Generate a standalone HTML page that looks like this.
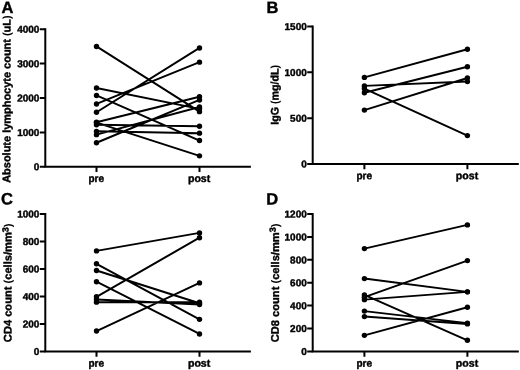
<!DOCTYPE html>
<html><head><meta charset="utf-8"><title>Figure</title>
<style>
html,body{margin:0;padding:0;background:#fff;}
svg{display:block;}
text{font-family:"Liberation Sans",sans-serif;font-weight:bold;fill:#000;stroke:#000;stroke-width:0.42px;stroke-linejoin:round;}
.pl{font-size:16.5px;}
.tk{font-size:10px;text-anchor:end;}
.xl{font-size:10.6px;text-anchor:middle;}
.yl{font-size:11px;text-anchor:middle;}
.ax{stroke:#000;stroke-width:2.0;fill:none;stroke-linecap:butt;}
.ln{stroke:#000;stroke-width:1.95;fill:none;stroke-linecap:round;}
circle{fill:#000;}
.np{stroke:none;}
</style></head><body>
<svg width="520" height="370" viewBox="0 0 520 370">
<rect x="0" y="0" width="520" height="370" fill="#fff"/>
<defs><filter id="soft" x="0" y="0" width="520" height="370" filterUnits="userSpaceOnUse"><feGaussianBlur stdDeviation="0.35"/></filter></defs>
<g filter="url(#soft)">

<g>
<text class="pl" transform="translate(1.6 13.1) rotate(0.03)">A</text>
<path class="ax" d="M45.3 28.25 V166.75 H250.9"/>
<path class="ax" d="M45.3 166.75 H39.8M45.3 132.38 H39.8M45.3 98 H39.8M45.3 63.62 H39.8M45.3 29.25 H39.8M96.5 166.75 V172.05M199.5 166.75 V172.05"/>
<text class="tk" transform="translate(39.4 170.35) rotate(0.03)">0</text>
<text class="tk" transform="translate(39.4 135.97) rotate(0.03)">1000</text>
<text class="tk" transform="translate(39.4 101.6) rotate(0.03)">2000</text>
<text class="tk" transform="translate(39.4 67.22) rotate(0.03)">3000</text>
<text class="tk" transform="translate(39.4 32.85) rotate(0.03)">4000</text>
<text class="xl" transform="translate(96.3 182.05) rotate(0.03)" textLength="15.6" lengthAdjust="spacingAndGlyphs">pre</text>
<text class="xl" transform="translate(199.1 182.05) rotate(0.03)">post</text>
<text class="yl" transform="translate(10.4 99.05) rotate(-89.97)" textLength="167.5" lengthAdjust="spacingAndGlyphs">Absolute lymphocyte count <tspan class="np">(</tspan>uL<tspan class="np">)</tspan></text>
<path class="ln" d="M96.5 46.44L199.5 111.65M96.5 87.96L199.5 108.86M96.5 95.46L199.5 140.56M96.5 103.95L199.5 62.15M96.5 112.27L199.5 47.95M96.5 122.23L199.5 96.76M96.5 122.58L199.5 155.85M96.5 124.74L199.5 126.26M96.5 131.34L199.5 133.17M96.5 134.64L199.5 107.04M96.5 142.76L199.5 99.96"/>
<circle cx="96.5" cy="46.44" r="2.7"/><circle cx="199.5" cy="111.65" r="2.7"/>
<circle cx="96.5" cy="87.96" r="2.7"/><circle cx="199.5" cy="108.86" r="2.7"/>
<circle cx="96.5" cy="95.46" r="2.7"/><circle cx="199.5" cy="140.56" r="2.7"/>
<circle cx="96.5" cy="103.95" r="2.7"/><circle cx="199.5" cy="62.15" r="2.7"/>
<circle cx="96.5" cy="112.27" r="2.7"/><circle cx="199.5" cy="47.95" r="2.7"/>
<circle cx="96.5" cy="122.23" r="2.7"/><circle cx="199.5" cy="96.76" r="2.7"/>
<circle cx="96.5" cy="122.58" r="2.7"/><circle cx="199.5" cy="155.85" r="2.7"/>
<circle cx="96.5" cy="124.74" r="2.7"/><circle cx="199.5" cy="126.26" r="2.7"/>
<circle cx="96.5" cy="131.34" r="2.7"/><circle cx="199.5" cy="133.17" r="2.7"/>
<circle cx="96.5" cy="134.64" r="2.7"/><circle cx="199.5" cy="107.04" r="2.7"/>
<circle cx="96.5" cy="142.76" r="2.7"/><circle cx="199.5" cy="99.96" r="2.7"/>
</g>
<g>
<text class="pl" transform="translate(266.5 13.1) rotate(0.03)">B</text>
<path class="ax" d="M312.7 25.5 V164 H518.8"/>
<path class="ax" d="M312.7 164 H307.2M312.7 118.17 H307.2M312.7 72.33 H307.2M312.7 26.5 H307.2M364.4 164 V169.3M467.4 164 V169.3"/>
<text class="tk" transform="translate(306.8 167.6) rotate(0.03)">0</text>
<text class="tk" transform="translate(306.8 121.77) rotate(0.03)">500</text>
<text class="tk" transform="translate(306.8 75.93) rotate(0.03)">1000</text>
<text class="tk" transform="translate(306.8 30.1) rotate(0.03)">1500</text>
<text class="xl" transform="translate(364.2 179.3) rotate(0.03)" textLength="15.6" lengthAdjust="spacingAndGlyphs">pre</text>
<text class="xl" transform="translate(467 179.3) rotate(0.03)">post</text>
<text class="yl" transform="translate(278.5 94.85) rotate(-89.97)" textLength="59.8" lengthAdjust="spacingAndGlyphs">IgG <tspan class="np">(</tspan>mg/dL<tspan class="np">)</tspan></text>
<path class="ln" d="M364.4 77.38L467.4 49.23M364.4 85.9L467.4 81.59M364.4 88.65L467.4 135.58M364.4 92.68L467.4 66.74M364.4 110.1L467.4 78.02"/>
<circle cx="364.4" cy="77.38" r="2.7"/><circle cx="467.4" cy="49.23" r="2.7"/>
<circle cx="364.4" cy="85.9" r="2.7"/><circle cx="467.4" cy="81.59" r="2.7"/>
<circle cx="364.4" cy="88.65" r="2.7"/><circle cx="467.4" cy="135.58" r="2.7"/>
<circle cx="364.4" cy="92.68" r="2.7"/><circle cx="467.4" cy="66.74" r="2.7"/>
<circle cx="364.4" cy="110.1" r="2.7"/><circle cx="467.4" cy="78.02" r="2.7"/>
</g>
<g>
<text class="pl" transform="translate(1.1 204.5) rotate(0.03)">C</text>
<path class="ax" d="M45.3 212.9 V351.4 H250.9"/>
<path class="ax" d="M45.3 351.4 H39.8M45.3 323.9 H39.8M45.3 296.4 H39.8M45.3 268.9 H39.8M45.3 241.4 H39.8M45.3 213.9 H39.8M96.5 351.4 V356.7M199.5 351.4 V356.7"/>
<text class="tk" transform="translate(39.4 355) rotate(0.03)">0</text>
<text class="tk" transform="translate(39.4 327.5) rotate(0.03)">200</text>
<text class="tk" transform="translate(39.4 300) rotate(0.03)">400</text>
<text class="tk" transform="translate(39.4 272.5) rotate(0.03)">600</text>
<text class="tk" transform="translate(39.4 245) rotate(0.03)">800</text>
<text class="tk" transform="translate(39.4 217.5) rotate(0.03)">1000</text>
<text class="xl" transform="translate(96.3 366.7) rotate(0.03)" textLength="15.6" lengthAdjust="spacingAndGlyphs">pre</text>
<text class="xl" transform="translate(199.1 366.7) rotate(0.03)">post</text>
<text class="yl" transform="translate(11.6 282.8) rotate(-89.97)" textLength="118.7" lengthAdjust="spacingAndGlyphs">CD4 count <tspan class="np">(</tspan>cells/mm<tspan font-size="9px" dy="-3.1">3</tspan><tspan dy="3.1" class="np">)</tspan></text>
<path class="ln" d="M96.5 250.89L199.5 232.88M96.5 263.81L199.5 319.36M96.5 270.55L199.5 303.27M96.5 281.69L199.5 333.94M96.5 296.81L199.5 237.69M96.5 299.56L199.5 304.51M96.5 302.17L199.5 302.17M96.5 331.05L199.5 282.92"/>
<circle cx="96.5" cy="250.89" r="2.7"/><circle cx="199.5" cy="232.88" r="2.7"/>
<circle cx="96.5" cy="263.81" r="2.7"/><circle cx="199.5" cy="319.36" r="2.7"/>
<circle cx="96.5" cy="270.55" r="2.7"/><circle cx="199.5" cy="303.27" r="2.7"/>
<circle cx="96.5" cy="281.69" r="2.7"/><circle cx="199.5" cy="333.94" r="2.7"/>
<circle cx="96.5" cy="296.81" r="2.7"/><circle cx="199.5" cy="237.69" r="2.7"/>
<circle cx="96.5" cy="299.56" r="2.7"/><circle cx="199.5" cy="304.51" r="2.7"/>
<circle cx="96.5" cy="302.17" r="2.7"/><circle cx="199.5" cy="302.17" r="2.7"/>
<circle cx="96.5" cy="331.05" r="2.7"/><circle cx="199.5" cy="282.92" r="2.7"/>
</g>
<g>
<text class="pl" transform="translate(266.2 204.4) rotate(0.03)">D</text>
<path class="ax" d="M312.7 213 V351.4 H518.8"/>
<path class="ax" d="M312.7 351.4 H307.2M312.7 328.5 H307.2M312.7 305.6 H307.2M312.7 282.7 H307.2M312.7 259.8 H307.2M312.7 236.9 H307.2M312.7 214 H307.2M364.4 351.4 V356.7M467.4 351.4 V356.7"/>
<text class="tk" transform="translate(306.8 355) rotate(0.03)">0</text>
<text class="tk" transform="translate(306.8 332.1) rotate(0.03)">200</text>
<text class="tk" transform="translate(306.8 309.2) rotate(0.03)">400</text>
<text class="tk" transform="translate(306.8 286.3) rotate(0.03)">600</text>
<text class="tk" transform="translate(306.8 263.4) rotate(0.03)">800</text>
<text class="tk" transform="translate(306.8 240.5) rotate(0.03)">1000</text>
<text class="tk" transform="translate(306.8 217.6) rotate(0.03)">1200</text>
<text class="xl" transform="translate(364.2 366.7) rotate(0.03)" textLength="15.6" lengthAdjust="spacingAndGlyphs">pre</text>
<text class="xl" transform="translate(467 366.7) rotate(0.03)">post</text>
<text class="yl" transform="translate(278.9 282.85) rotate(-89.97)" textLength="118.7" lengthAdjust="spacingAndGlyphs">CD8 count <tspan class="np">(</tspan>cells/mm<tspan font-size="9px" dy="-3.1">3</tspan><tspan dy="3.1" class="np">)</tspan></text>
<path class="ln" d="M364.4 248.58L467.4 224.88M364.4 278.58L467.4 291.86M364.4 294.84L467.4 340.29M364.4 297.13L467.4 260.6M364.4 299.65L467.4 291.86M364.4 311.1L467.4 323.12M364.4 316.59L467.4 323.92M364.4 335.37L467.4 307.2"/>
<circle cx="364.4" cy="248.58" r="2.7"/><circle cx="467.4" cy="224.88" r="2.7"/>
<circle cx="364.4" cy="278.58" r="2.7"/><circle cx="467.4" cy="291.86" r="2.7"/>
<circle cx="364.4" cy="294.84" r="2.7"/><circle cx="467.4" cy="340.29" r="2.7"/>
<circle cx="364.4" cy="297.13" r="2.7"/><circle cx="467.4" cy="260.6" r="2.7"/>
<circle cx="364.4" cy="299.65" r="2.7"/><circle cx="467.4" cy="291.86" r="2.7"/>
<circle cx="364.4" cy="311.1" r="2.7"/><circle cx="467.4" cy="323.12" r="2.7"/>
<circle cx="364.4" cy="316.59" r="2.7"/><circle cx="467.4" cy="323.92" r="2.7"/>
<circle cx="364.4" cy="335.37" r="2.7"/><circle cx="467.4" cy="307.2" r="2.7"/>
</g>
</g>
</svg></body></html>
